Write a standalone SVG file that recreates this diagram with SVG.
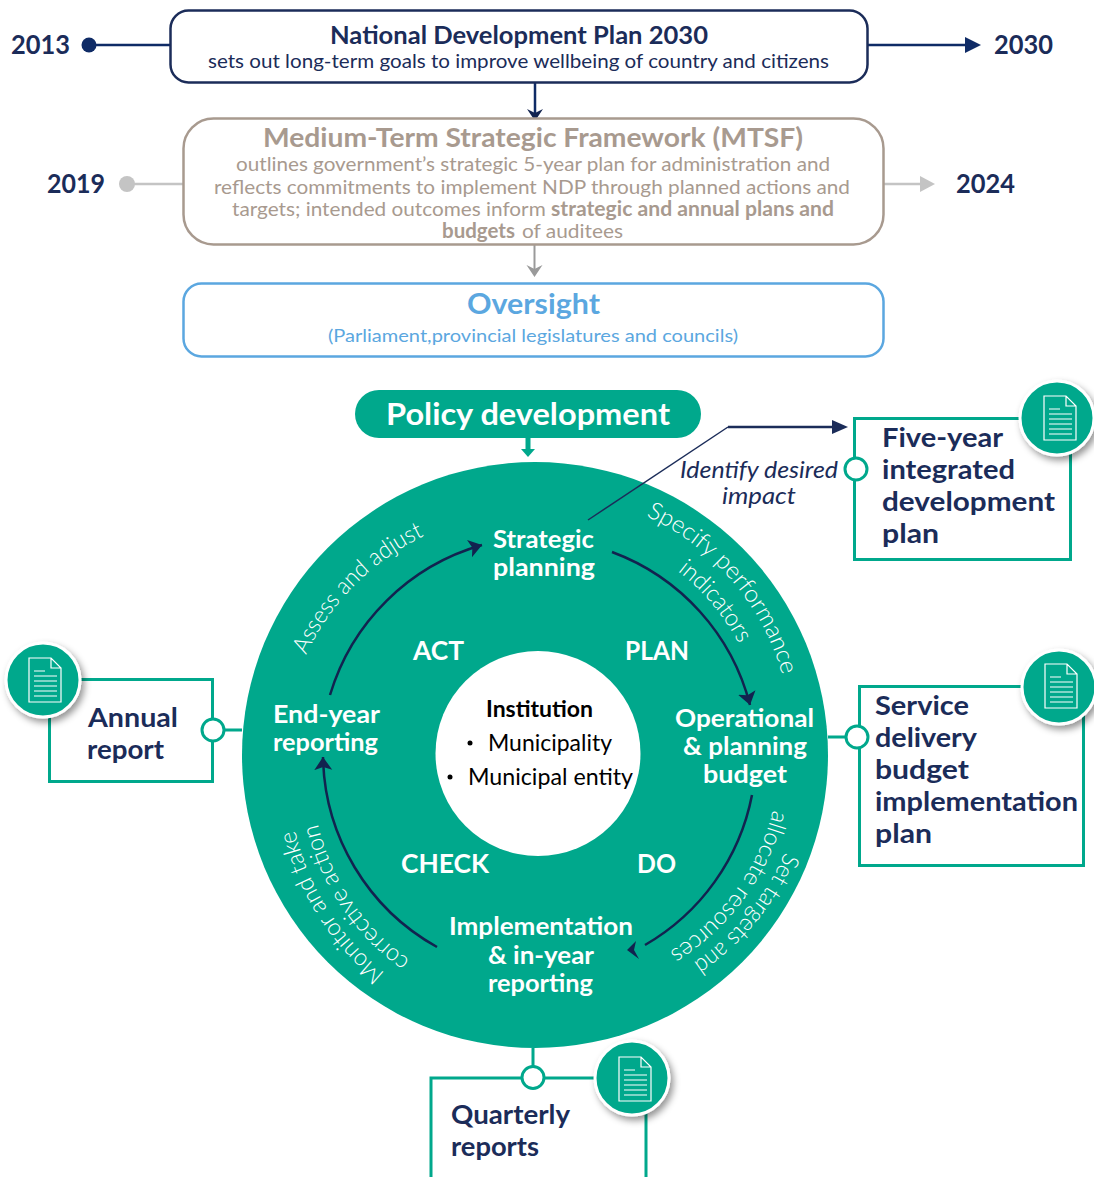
<svg xmlns="http://www.w3.org/2000/svg" width="1094" height="1177" viewBox="0 0 1094 1177">
<style>
text{font-family:"Lato","Liberation Sans",sans-serif;}
.navy{fill:#1b2c59;font-weight:700;}
.yr{font-size:27px;}
.dt{font-size:27px;}
.w{fill:#fff;font-weight:700;font-size:25px;}
.big{fill:#fff;font-weight:700;font-size:27px;}
.arc{fill:#fff;font-weight:300;font-size:24px;}
.tan{fill:#a89a8f;font-size:20px;font-weight:400;}
.tanb{font-weight:700;}
.box{fill:#fff;stroke:#00a88c;stroke-width:3;}
.ring{fill:none;stroke:#12234f;stroke-width:2.500;}
.dot{fill:#fff;stroke:#00a88c;stroke-width:3;}
.teal{stroke:#00a88c;stroke-width:3;fill:none;}
.ic{fill:none;stroke:#fff;stroke-width:1.200;}
.badge{fill:#00a88c;stroke:#fff;stroke-width:3;filter:url(#sh);}
</style>
<defs>
<filter id="sh" x="-30%" y="-30%" width="170%" height="170%"><feDropShadow dx="3" dy="4" stdDeviation="3.500" flood-color="#000" flood-opacity=".42"/></filter>
<marker id="an" markerUnits="userSpaceOnUse" markerWidth="16" markerHeight="20" refX="13" refY="9" orient="auto"><path d="M0 0L13 9L0 18L3 9z" fill="#12234f"/></marker>
<marker id="ad" markerUnits="userSpaceOnUse" markerWidth="14" markerHeight="20" refX="8" refY="8" orient="auto"><path d="M0 0L4 8L0 16L12 8z" fill="#12234f"/></marker>
<marker id="am" markerUnits="userSpaceOnUse" markerWidth="14" markerHeight="20" refX="10" refY="8" orient="auto"><path d="M0 0L4 8L0 16L12 8z" fill="#9a9a9a"/></marker>
<path id="p1" d="M306 655A250 250 0 0 1 424 536"/>
<path id="p2" d="M646 516A250 250 0 0 1 782 674"/>
<path id="p3" d="M677.500 571A225 225 0 0 1 739 644"/>
<path id="p4" d="M785 852A255 255 0 0 1 693 963"/>
<path id="p5" d="M773 810A232 232 0 0 1 669 952"/>
<path id="p6" d="M385 973A255 255 0 0 1 295 830"/>
<path id="p7" d="M410 960A230 230 0 0 1 318 824"/>
<g id="doc"><path class="ic" d="M-16 -22H6L16 -12V22H-16zM6 -22V-12H16"/><path class="ic" d="M-11 -9H0M-11 -4H12M-11 1H12M-11 6H12M-11 11H12M-11 16H12"/></g>
</defs>
<rect width="1094" height="1177" fill="#fff"/>

<g id="connectors">
<circle cx="89" cy="45" r="7.500" fill="#0f2b66"/>
<path d="M89 45H170" stroke="#0f2b66" stroke-width="2.500"/>
<path d="M868 45H966" stroke="#0f2b66" stroke-width="2.500"/><path d="M965 37L981 45L965 53z" fill="#0f2b66"/>
<path d="M535 82V117" stroke="#0f2b66" stroke-width="2.500" marker-end="url(#ad)"/>
<circle cx="127" cy="184" r="8" fill="#c4c4c4"/>
<path d="M127 184H183" stroke="#c4c4c4" stroke-width="2.500"/>
<path d="M884 184H921" stroke="#c4c4c4" stroke-width="2.500"/><path d="M920 176L935 184L920 192z" fill="#c4c4c4"/>
<path d="M534.500 245V275" stroke="#9a9a9a" stroke-width="2" marker-end="url(#am)"/>
<path d="M528 436V450" stroke="#00a88c" stroke-width="5"/><path d="M521 449H535L528 457z" fill="#00a88c"/>
<path d="M242 730H203M828 737H846M533 1048V1068" class="teal"/>
</g>

<g id="ndp">
<rect x="170.500" y="10.500" width="697" height="72" rx="18" fill="#fff" stroke="#1b2c59" stroke-width="2.500"/>
<text x="330" y="44" class="navy" font-size="24" textLength="378" lengthAdjust="spacingAndGlyphs">National Development Plan 2030</text>
<text x="208" y="68" fill="#1b2c59" font-size="19" textLength="621" lengthAdjust="spacingAndGlyphs">sets out long-term goals to improve wellbeing of country and citizens</text>
</g>
<g id="y2013"><text x="11" y="54" class="navy yr" textLength="59" lengthAdjust="spacingAndGlyphs">2013</text></g>
<g id="y2030"><text x="994" y="54" class="navy yr" textLength="59" lengthAdjust="spacingAndGlyphs">2030</text></g>

<g id="mtsf">
<rect x="183.500" y="118.500" width="700" height="126" rx="30" fill="#fff" stroke="#a89a8f" stroke-width="2.500"/>
<text x="263" y="147" fill="#a89a8f" font-weight="700" font-size="27" textLength="540" lengthAdjust="spacingAndGlyphs">Medium-Term Strategic Framework (MTSF)</text>
<text x="236" y="171" class="tan" textLength="594" lengthAdjust="spacingAndGlyphs">outlines government’s strategic 5-year plan for administration and</text>
<text x="214" y="194" class="tan" textLength="636" lengthAdjust="spacingAndGlyphs">reflects commitments to implement NDP through planned actions and</text>
<text y="216" class="tan"><tspan x="232" textLength="319" lengthAdjust="spacingAndGlyphs">targets; intended outcomes inform </tspan><tspan x="551" class="tanb" textLength="283" lengthAdjust="spacingAndGlyphs">strategic and annual plans and</tspan></text>
<text y="238" class="tan"><tspan x="442" class="tanb" textLength="73" lengthAdjust="spacingAndGlyphs">budgets</tspan><tspan x="522" textLength="101" lengthAdjust="spacingAndGlyphs">of auditees</tspan></text>
</g>
<g id="y2019"><text x="47" y="193" class="navy yr" textLength="58" lengthAdjust="spacingAndGlyphs">2019</text></g>
<g id="y2024"><text x="956" y="193" class="navy yr" textLength="59" lengthAdjust="spacingAndGlyphs">2024</text></g>

<g id="oversight">
<rect x="183.500" y="283.500" width="700" height="73" rx="18" fill="#fff" stroke="#5ba7e0" stroke-width="2.500"/>
<text x="467" y="314" fill="#5ba7e0" font-weight="700" font-size="29" textLength="133" lengthAdjust="spacingAndGlyphs">Oversight</text>
<text x="328" y="342" fill="#5ba7e0" font-size="18" textLength="410" lengthAdjust="spacingAndGlyphs">(Parliament,provincial legislatures and councils)</text>
</g>

<g id="policy">
<rect x="355" y="390" width="346" height="48" rx="24" fill="#00a88c"/>
<text x="386" y="425" fill="#fff" font-weight="700" font-size="30" textLength="284" lengthAdjust="spacingAndGlyphs">Policy development</text>
</g>

<g id="cycle">
<circle cx="535" cy="755" r="293" fill="#00a88c"/>
<circle cx="538" cy="753.500" r="102.500" fill="#fff"/>
<path class="ring" d="M612 552A222 222 0 0 1 750 705" marker-end="url(#an)"/>
<path class="ring" d="M752 795A222 222 0 0 1 645 945"/><path d="M627 950L636 941L634 950L639 959z" fill="#12234f"/>
<path class="ring" d="M437 947A222 222 0 0 1 323 757" marker-end="url(#an)"/>
<path class="ring" d="M330 695A222 222 0 0 1 482 545" marker-end="url(#an)"/>
<path d="M588 520L728 427" fill="none" stroke="#1b2c59" stroke-width="1.500"/>
<path d="M728 427H833" fill="none" stroke="#1b2c59" stroke-width="2.500"/><path d="M832 420L848 427L832 434z" fill="#1b2c59"/>
<text class="arc"><textPath href="#p1" textLength="171" lengthAdjust="spacingAndGlyphs">Assess and adjust</textPath></text>
<text class="arc"><textPath href="#p2" textLength="216" lengthAdjust="spacingAndGlyphs">Specify performance</textPath></text>
<text class="arc"><textPath href="#p3" textLength="96" lengthAdjust="spacingAndGlyphs">indicators</textPath></text>
<text class="arc"><textPath href="#p4" textLength="146" lengthAdjust="spacingAndGlyphs">Set targets and</textPath></text>
<text class="arc"><textPath href="#p5" textLength="180" lengthAdjust="spacingAndGlyphs">allocate resources</textPath></text>
<text class="arc"><textPath href="#p6" textLength="172" lengthAdjust="spacingAndGlyphs">Monitor and take</textPath></text>
<text class="arc"><textPath href="#p7" textLength="168" lengthAdjust="spacingAndGlyphs">corrective action</textPath></text>
<text x="413" y="660" class="big" textLength="51" lengthAdjust="spacingAndGlyphs">ACT</text>
<text x="625" y="660" class="big" textLength="64" lengthAdjust="spacingAndGlyphs">PLAN</text>
<text x="401" y="873" class="big" textLength="88" lengthAdjust="spacingAndGlyphs">CHECK</text>
<text x="637" y="873" class="big" textLength="39" lengthAdjust="spacingAndGlyphs">DO</text>
</g>

<g id="institution">
<text x="486" y="717" fill="#000" font-weight="700" font-size="23" textLength="107" lengthAdjust="spacingAndGlyphs">Institution</text>
<circle cx="470" cy="743" r="2.500" fill="#000"/>
<text x="488" y="751" fill="#000" font-size="23" textLength="124" lengthAdjust="spacingAndGlyphs">Municipality</text>
<circle cx="450" cy="777" r="2.500" fill="#000"/>
<text x="468" y="785" fill="#000" font-size="23" textLength="165" lengthAdjust="spacingAndGlyphs">Municipal entity</text>
</g>

<g id="strategic-planning">
<text x="493" y="548" class="w" textLength="101" lengthAdjust="spacingAndGlyphs">Strategic</text>
<text x="493" y="576" class="w" textLength="102" lengthAdjust="spacingAndGlyphs">planning</text>
</g>
<g id="operational-budget">
<text x="675" y="727" class="w" textLength="139" lengthAdjust="spacingAndGlyphs">Operational</text>
<text x="683" y="755" class="w" textLength="124" lengthAdjust="spacingAndGlyphs">&amp; planning</text>
<text x="703" y="783" class="w" textLength="84" lengthAdjust="spacingAndGlyphs">budget</text>
</g>
<g id="implementation">
<text x="449" y="935" class="w" textLength="184" lengthAdjust="spacingAndGlyphs">Implementation</text>
<text x="488" y="964" class="w" textLength="106" lengthAdjust="spacingAndGlyphs">&amp; in-year</text>
<text x="488" y="992" class="w" textLength="105" lengthAdjust="spacingAndGlyphs">reporting</text>
</g>
<g id="end-year">
<text x="273" y="723" class="w" textLength="107" lengthAdjust="spacingAndGlyphs">End-year</text>
<text x="273" y="751" class="w" textLength="105" lengthAdjust="spacingAndGlyphs">reporting</text>
</g>

<g id="identify">
<text x="680" y="478" fill="#1b2c59" font-style="italic" font-weight="400" font-size="23" textLength="158" lengthAdjust="spacingAndGlyphs">Identify desired</text>
<text x="722" y="504" fill="#1b2c59" font-style="italic" font-weight="400" font-size="23" textLength="74" lengthAdjust="spacingAndGlyphs">impact</text>
</g>

<g id="five-year">
<rect class="box" x="854.500" y="418.500" width="216" height="141"/>
<circle class="dot" cx="856" cy="469" r="11"/>
<text x="882" y="447" class="navy dt" textLength="121" lengthAdjust="spacingAndGlyphs">Five-year</text>
<text x="882" y="479" class="navy dt" textLength="133" lengthAdjust="spacingAndGlyphs">integrated</text>
<text x="882" y="511" class="navy dt" textLength="173" lengthAdjust="spacingAndGlyphs">development</text>
<text x="882" y="543" class="navy dt" textLength="57" lengthAdjust="spacingAndGlyphs">plan</text>
<circle class="badge" cx="1057" cy="418" r="37"/><use href="#doc" x="1060" y="418"/>
</g>

<g id="service-delivery">
<rect class="box" x="859.500" y="686.500" width="224" height="179"/>
<circle class="dot" cx="857" cy="737" r="11"/>
<text x="875" y="715" class="navy dt" textLength="94" lengthAdjust="spacingAndGlyphs">Service</text>
<text x="875" y="747" class="navy dt" textLength="102" lengthAdjust="spacingAndGlyphs">delivery</text>
<text x="875" y="779" class="navy dt" textLength="94" lengthAdjust="spacingAndGlyphs">budget</text>
<text x="875" y="811" class="navy dt" textLength="203" lengthAdjust="spacingAndGlyphs">implementation</text>
<text x="875" y="843" class="navy dt" textLength="57" lengthAdjust="spacingAndGlyphs">plan</text>
<circle class="badge" cx="1059" cy="687" r="37"/><use href="#doc" x="1061" y="686"/>
</g>

<g id="annual-report">
<rect class="box" x="49.500" y="679.500" width="163" height="102"/>
<circle class="dot" cx="213" cy="730" r="11"/>
<text x="88" y="727" class="navy dt" textLength="90" lengthAdjust="spacingAndGlyphs">Annual</text>
<text x="87" y="759" class="navy dt" textLength="77" lengthAdjust="spacingAndGlyphs">report</text>
<circle class="badge" cx="43" cy="680" r="37"/><use href="#doc" x="45" y="680"/>
</g>

<g id="quarterly-reports">
<path class="teal" d="M431 1177V1078H646V1177" fill="#fff"/>
<circle class="dot" cx="533" cy="1077.500" r="11"/>
<text x="451" y="1124" class="navy dt" textLength="119" lengthAdjust="spacingAndGlyphs">Quarterly</text>
<text x="451" y="1156" class="navy dt" textLength="88" lengthAdjust="spacingAndGlyphs">reports</text>
<circle class="badge" cx="632" cy="1078" r="37"/><use href="#doc" x="635" y="1079"/>
</g>
</svg>
